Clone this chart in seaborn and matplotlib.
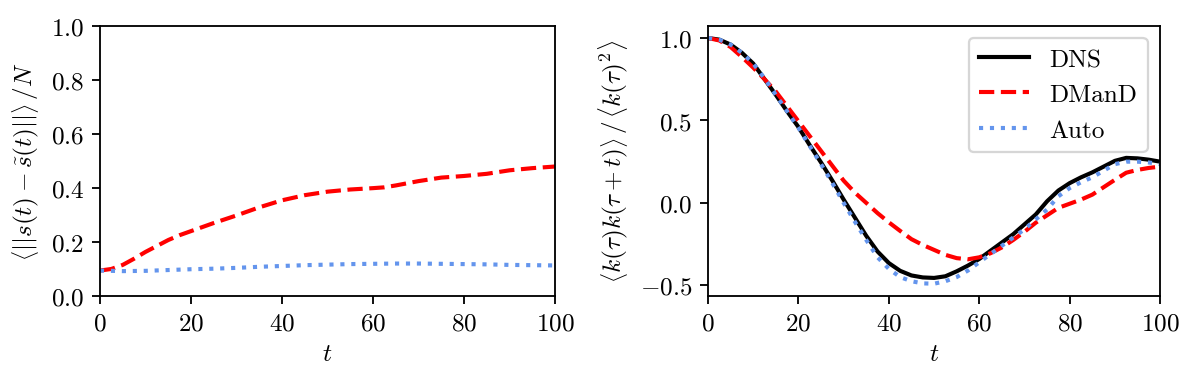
import numpy as np
import pandas as pd
import seaborn as sns
import matplotlib
matplotlib.use('Agg')
import matplotlib.pyplot as plt

# left panel: mean trajectory error vs t
t_err = [0, 2.5, 5, 7.5, 10, 12.5, 15, 17.5, 20, 25, 30, 35, 40, 45, 50, 55, 60, 62.5, 65, 70, 75, 80, 85, 90, 95, 100]
err_dmand = [0.094, 0.100, 0.115, 0.138, 0.163, 0.185, 0.207, 0.225, 0.240, 0.270, 0.298, 0.328, 0.354, 0.373, 0.386,
             0.394, 0.399, 0.402, 0.409, 0.425, 0.438, 0.444, 0.452, 0.465, 0.473, 0.479]
t_err_auto = [0, 5, 10, 15, 20, 25, 30, 35, 40, 45, 50, 55, 60, 65, 70, 75, 80, 85, 90, 95, 100]
err_auto = [0.094, 0.092, 0.093, 0.096, 0.099, 0.101, 0.104, 0.108, 0.111, 0.114, 0.116, 0.118, 0.119, 0.120, 0.120,
            0.119, 0.118, 0.117, 0.115, 0.114, 0.113]

# right panel: autocorrelation of k
t_ac = [0, 2.5, 5, 7.5, 10, 12.5, 15, 17.5, 20, 22.5, 25, 27.5, 30, 32.5, 35, 37.5, 40, 42.5, 45, 47.5, 50,
        52.5, 55, 57.5, 60, 62.5, 65, 67.5, 70, 72.5, 75, 77.5, 80, 82.5, 85, 87.5, 90, 92.5, 95, 97.5, 100]
ac_dns = [1.0, 0.99, 0.96, 0.91, 0.845, 0.75, 0.655, 0.555, 0.46, 0.35, 0.245, 0.135, 0.02, -0.09, -0.2, -0.295, -0.365, -0.412, -0.44, -0.452, -0.455,
          -0.445, -0.415, -0.38, -0.34, -0.29, -0.24, -0.19, -0.13, -0.07, 0.01, 0.075, 0.12, 0.155, 0.185, 0.22, 0.255, 0.273, 0.27, 0.262, 0.25]
ac_dmand = [1.0, 0.985, 0.945, 0.885, 0.82, 0.75, 0.675, 0.585, 0.495, 0.405, 0.315, 0.225, 0.135, 0.062, 0.0, -0.062, -0.118, -0.17, -0.22, -0.255, -0.285,
            -0.315, -0.335, -0.342, -0.33, -0.305, -0.27, -0.225, -0.175, -0.12, -0.075, -0.03, -0.005, 0.02, 0.05, 0.095, 0.14, 0.183, 0.2, 0.212, 0.22]
ac_auto = [1.0, 0.99, 0.96, 0.91, 0.845, 0.755, 0.655, 0.555, 0.455, 0.345, 0.235, 0.12, 0.0, -0.115, -0.225, -0.33, -0.4, -0.45, -0.475, -0.488, -0.49,
           -0.475, -0.45, -0.41, -0.36, -0.31, -0.26, -0.21, -0.16, -0.1, -0.04, 0.04, 0.09, 0.125, 0.155, 0.195, 0.235, 0.25, 0.25, 0.245, 0.235]

plt.rcParams['font.family'] = ['cmr10', 'DejaVu Serif']
plt.rcParams['mathtext.fontset'] = 'cm'
plt.rcParams['axes.formatter.use_mathtext'] = True
plt.rcParams['font.size'] = 11

colors = {'DNS': 'black', 'DManD': 'red', 'Auto': 'cornflowerblue'}
styles = {'DNS': '-', 'DManD': '--', 'Auto': ':'}
lw = 1.8

DPI = 165
fig = plt.figure(figsize=(1196 / DPI, 387 / DPI), dpi=DPI)
ax1 = fig.add_axes([0.0836, 0.2326, 0.3805, 0.6984])
ax2 = fig.add_axes([0.592, 0.2326, 0.378, 0.6984])

df_err = pd.DataFrame({'t': t_err + t_err_auto,
                       'val': err_dmand + err_auto,
                       'model': ['DManD'] * len(t_err) + ['Auto'] * len(t_err_auto)})
for m in ['DManD', 'Auto']:
    sub = df_err[df_err.model == m]
    sns.lineplot(data=sub, x='t', y='val', ax=ax1, color=colors[m], linestyle=styles[m], lw=lw)
ax1.set_xlim(0, 100)
ax1.set_ylim(0, 1)
ax1.set_xlabel(r'$t$')
ax1.set_ylabel(r'$\left\langle ||s(t)-\tilde{s}(t)|| \right\rangle \,/N$')

df_ac = pd.DataFrame({'t': t_ac * 3,
                      'val': ac_dns + ac_dmand + ac_auto,
                      'model': ['DNS'] * len(t_ac) + ['DManD'] * len(t_ac) + ['Auto'] * len(t_ac)})
for m in ['DNS', 'DManD', 'Auto']:
    sub = df_ac[df_ac.model == m]
    sns.lineplot(data=sub, x='t', y='val', ax=ax2, color=colors[m], linestyle=styles[m], lw=lw, label=m)
ax2.set_xlim(0, 100)
ax2.set_yticks([-0.5, 0.0, 0.5, 1.0])
ax2.set_xlabel(r'$t$')
ax2.set_ylabel(r'$\left\langle k(\tau)k(\tau+t) \right\rangle \,/\, \left\langle k(\tau)^2 \right\rangle$')
ax2.legend(loc='upper right')

fig.savefig('out.png', dpi=DPI)
